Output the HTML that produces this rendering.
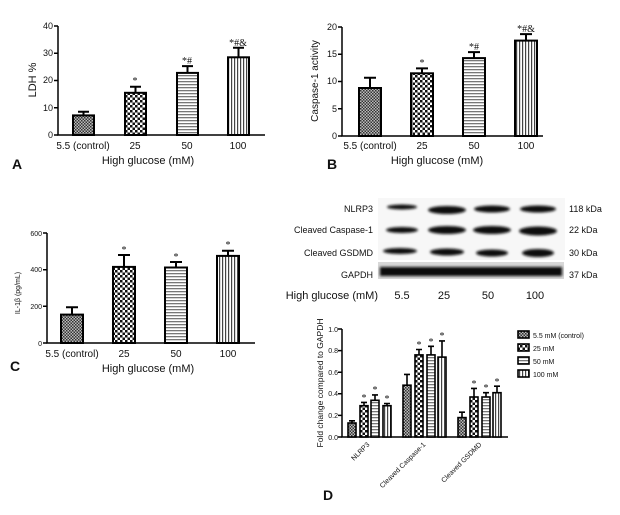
<!DOCTYPE html>
<html><head><meta charset="utf-8"><style>
html,body{margin:0;padding:0;background:#fff;}
svg{display:block;font-family:"Liberation Sans",sans-serif;}
</style></head><body>
<svg width="620" height="515" viewBox="0 0 620 515" xmlns="http://www.w3.org/2000/svg">
<defs>
<pattern id="p1" width="3" height="3" patternUnits="userSpaceOnUse"><rect width="3" height="3" fill="#bbb"/><rect width="1.5" height="1.5" fill="#333"/><rect x="1.5" y="1.5" width="1.5" height="1.5" fill="#333"/></pattern>
<pattern id="p2" width="5" height="5" patternUnits="userSpaceOnUse"><rect width="5" height="5" fill="#fff"/><rect width="2.5" height="2.5" fill="#111"/><rect x="2.5" y="2.5" width="2.5" height="2.5" fill="#111"/></pattern>
<pattern id="p3" width="4" height="3" patternUnits="userSpaceOnUse"><rect width="4" height="3" fill="#fff"/><rect width="4" height="1.3" fill="#777"/></pattern>
<pattern id="p4" width="3" height="4" patternUnits="userSpaceOnUse"><rect width="3" height="4" fill="#fff"/><rect width="1.2" height="4" fill="#444"/></pattern>
<filter id="bl"><feGaussianBlur stdDeviation="1.2"/></filter>
</defs>
<g stroke="#000" fill="none" stroke-width="1.5">
<path d="M58 26V135H265"/><path d="M54 26H58M54 53.3H58M54 80.5H58M54 107.8H58M54 135H58"/>
<path d="M342 27V136H543"/><path d="M338 27H342M338 54.3H342M338 81.5H342M338 108.8H342M338 136H342"/>
<path d="M47 233V343H255"/><path d="M43 233H47M43 269.7H47M43 306.3H47M43 343H47"/>
<path d="M342 329V437H508"/><path d="M338 329H342M338 350.6H342M338 372.2H342M338 393.8H342M338 415.4H342M338 437H342"/>
</g>
<g stroke="#000" stroke-width="2">
<rect x="73" y="115.4" width="21" height="19.6" fill="url(#p1)"/>
<rect x="125" y="92.8" width="21" height="42.2" fill="url(#p2)"/>
<rect x="177" y="72.9" width="21" height="62.1" fill="url(#p3)"/>
<rect x="228" y="57.3" width="21" height="77.7" fill="url(#p4)"/>
<path d="M83.5 115.4V111.8M78 111.8H89M135.5 92.8V86.8M130 86.8H141M187.5 72.9V66.1M182 66.1H193M238.5 57.3V47.8M233 47.8H244"/>
<rect x="359" y="88" width="22" height="48" fill="url(#p1)"/>
<rect x="411" y="73.3" width="22" height="62.7" fill="url(#p2)"/>
<rect x="463" y="58.1" width="22" height="77.9" fill="url(#p3)"/>
<rect x="515" y="40.6" width="22" height="95.4" fill="url(#p4)"/>
<path d="M370 88V77.7M364 77.7H376M422 73.3V68.4M416 68.4H428M474 58.1V52.1M468 52.1H480M526 40.6V34.1M520 34.1H532"/>
<rect x="61" y="314.6" width="22" height="28.4" fill="url(#p1)"/>
<rect x="113" y="266.9" width="22" height="76.1" fill="url(#p2)"/>
<rect x="165" y="267.5" width="22" height="75.5" fill="url(#p3)"/>
<rect x="217" y="255.9" width="22" height="87.1" fill="url(#p4)"/>
<path d="M72 314.6V307.3M66 307.3H78M124 266.9V255M118 255H130M176 267.5V262M170 262H182M228 255.9V250.8M222 250.8H234"/>
</g>
<g stroke="#000" stroke-width="1.6">
<rect x="348" y="423" width="8" height="14" fill="url(#p1)"/>
<rect x="360" y="405.7" width="8" height="31.3" fill="url(#p2)"/>
<rect x="371" y="400.3" width="8" height="36.7" fill="url(#p3)"/>
<rect x="383" y="405.7" width="8" height="31.3" fill="url(#p4)"/>
<rect x="403" y="385.2" width="8" height="51.8" fill="url(#p1)"/>
<rect x="415" y="354.9" width="8" height="82.1" fill="url(#p2)"/>
<rect x="427" y="354.9" width="8" height="82.1" fill="url(#p3)"/>
<rect x="438" y="357.1" width="8" height="79.9" fill="url(#p4)"/>
<rect x="458" y="417.6" width="8" height="19.4" fill="url(#p1)"/>
<rect x="470" y="397" width="8" height="40" fill="url(#p2)"/>
<rect x="482" y="397" width="8" height="40" fill="url(#p3)"/>
<rect x="493" y="392.7" width="8" height="44.3" fill="url(#p4)"/>
<path d="M352 423V420.8M349 420.8H355M364 405.7V402.4M361 402.4H367M375 400.3V394.9M372 394.9H378M387 405.7V403.5M384 403.5H390M407 385.2V374.4M404 374.4H410M419 354.9V349.5M416 349.5H422M431 354.9V346.3M428 346.3H434M442 357.1V340.9M439 340.9H445M462 417.6V412.2M459 412.2H465M474 397V388.4M471 388.4H477M486 397V392.7M483 392.7H489M497 392.7V386.2M494 386.2H500"/>
<rect x="518" y="331" width="11" height="7" fill="url(#p1)"/>
<rect x="518" y="344" width="11" height="7" fill="url(#p2)"/>
<rect x="518" y="357" width="11" height="7" fill="url(#p3)"/>
<rect x="518" y="370" width="11" height="7" fill="url(#p4)"/>
</g>
<rect x="378" y="198" width="187" height="62" fill="#f7f7f7"/>
<rect x="378" y="262" width="186" height="17" fill="#d8d8d8"/>
<g fill="#111" filter="url(#bl)">
<ellipse cx="402" cy="207" rx="15" ry="2.5"/><ellipse cx="447" cy="210" rx="19" ry="4"/><ellipse cx="492" cy="209" rx="18" ry="3.5"/><ellipse cx="538" cy="209" rx="18" ry="3.5"/>
<ellipse cx="402" cy="230" rx="16" ry="3"/><ellipse cx="447" cy="230" rx="19" ry="4"/><ellipse cx="492" cy="230" rx="19" ry="4"/><ellipse cx="538" cy="231" rx="19" ry="4.5"/>
<ellipse cx="400" cy="251" rx="17" ry="3"/><ellipse cx="447" cy="252" rx="17" ry="3.5"/><ellipse cx="492" cy="253" rx="16" ry="3.5"/><ellipse cx="538" cy="253" rx="16" ry="4"/>
<rect x="380" y="267" width="182" height="9"/>
</g>
<g font-size="9" fill="#111">
<text x="373" y="212" text-anchor="end">NLRP3</text>
<text x="373" y="233" text-anchor="end">Cleaved Caspase-1</text>
<text x="373" y="256" text-anchor="end">Cleaved GSDMD</text>
<text x="373" y="278" text-anchor="end">GAPDH</text>
<text x="569" y="212">118 kDa</text>
<text x="569" y="233">22 kDa</text>
<text x="569" y="256">30 kDa</text>
<text x="569" y="278">37 kDa</text>
</g>
<g font-size="11" fill="#111">
<text x="378" y="299" text-anchor="end">High glucose (mM)</text>
<text x="402" y="299" text-anchor="middle">5.5</text>
<text x="444" y="299" text-anchor="middle">25</text>
<text x="488" y="299" text-anchor="middle">50</text>
<text x="535" y="299" text-anchor="middle">100</text>
</g>
<g font-size="9" fill="#111" text-anchor="end">
<text x="53" y="29">40</text><text x="53" y="56">30</text><text x="53" y="83">20</text><text x="53" y="111">10</text><text x="53" y="138">0</text>
<text x="337" y="30">20</text><text x="337" y="57">15</text><text x="337" y="84">10</text><text x="337" y="112">5</text><text x="337" y="139">0</text>
</g>
<g font-size="7" fill="#111" text-anchor="end">
<text x="42" y="236">600</text><text x="42" y="272">400</text><text x="42" y="309">200</text><text x="42" y="346">0</text>
<text x="338" y="332">1.0</text><text x="338" y="353">0.8</text><text x="338" y="375">0.6</text><text x="338" y="396">0.4</text><text x="338" y="418">0.2</text><text x="338" y="440">0.0</text>
</g>
<g font-size="10" fill="#111" text-anchor="middle">
<text x="83" y="149">5.5 (control)</text><text x="135" y="149">25</text><text x="187" y="149">50</text><text x="238" y="149">100</text>
<text x="370" y="149">5.5 (control)</text><text x="422" y="149">25</text><text x="474" y="149">50</text><text x="526" y="149">100</text>
<text x="72" y="357">5.5 (control)</text><text x="124" y="357">25</text><text x="176" y="357">50</text><text x="228" y="357">100</text>
</g>
<g font-size="11" fill="#111" text-anchor="middle">
<text x="148" y="164">High glucose (mM)</text>
<text x="437" y="164">High glucose (mM)</text>
<text x="148" y="372">High glucose (mM)</text>
<text transform="translate(36 80) rotate(-90)">LDH %</text>
<text transform="translate(318 81) rotate(-90)" font-size="10">Caspase-1 activity</text>
<text transform="translate(20 293) rotate(-90)" font-size="7">IL-1β (pg/mL)</text>
<text transform="translate(323 383) rotate(-90)" font-size="8.5">Fold change compared to GAPDH</text>
</g>
<g font-family="Liberation Serif,serif" font-size="10" fill="#111" text-anchor="middle">
<text x="135" y="84">*</text><text x="187" y="64">*#</text><text x="238" y="46">*#&amp;</text>
<text x="422" y="66">*</text><text x="474" y="50">*#</text><text x="526" y="32">*#&amp;</text>
<text x="124" y="253">*</text><text x="176" y="260">*</text><text x="228" y="248">*</text>
<text x="364" y="401">*</text><text x="375" y="393">*</text><text x="387" y="402">*</text>
<text x="419" y="348">*</text><text x="431" y="345">*</text><text x="442" y="339">*</text>
<text x="474" y="387">*</text><text x="486" y="391">*</text><text x="497" y="385">*</text>
</g>
<g font-size="7" fill="#111">
<text x="533" y="338">5.5 mM (control)</text><text x="533" y="351">25 mM</text><text x="533" y="364">50 mM</text><text x="533" y="377">100 mM</text>
<text transform="translate(370 445) rotate(-45)" text-anchor="end">NLRP3</text>
<text transform="translate(426 445) rotate(-45)" text-anchor="end">Cleaved Caspase-1</text>
<text transform="translate(482 445) rotate(-45)" text-anchor="end">Cleaved GSDMD</text>
</g>
<g font-size="14" font-weight="bold" fill="#111">
<text x="12" y="169">A</text><text x="327" y="169">B</text><text x="10" y="371">C</text><text x="323" y="500">D</text>
</g>
</svg>
</body></html>
